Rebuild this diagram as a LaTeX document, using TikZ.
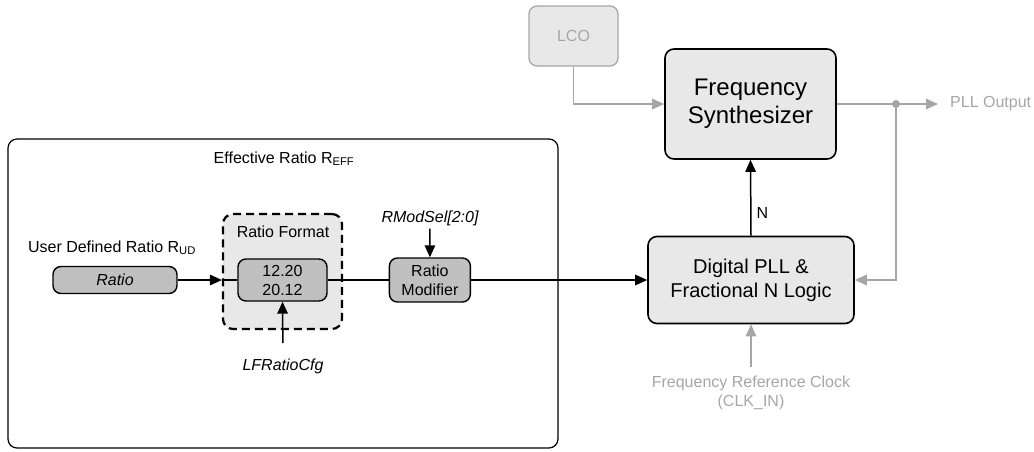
\documentclass[tikz,border=0pt]{standalone}
\usepackage{fontspec}
\setmainfont{Liberation Sans}
\usetikzlibrary{arrows.meta, positioning, shapes.geometric, calc}
\definecolor{lightfill}{HTML}{E8E8E8}
\definecolor{darkfill}{HTML}{C0C0C0}
\definecolor{faded}{HTML}{A6A6A6}

\begin{document}
\begin{tikzpicture}[
		x=1pt, y=-1pt,
		every node/.style={font=\fontsize{16}{19}\selectfont, inner sep=0pt},
		group/.style={draw, rounded corners=9pt, line width=1.2pt},
		block/.style={draw, rounded corners=9pt, fill=lightfill, line width=1.6pt, align=center},
		inner/.style={draw, rounded corners=8pt, fill=darkfill, line width=1.4pt, align=center},
		format/.style={draw, rounded corners=10pt, fill=lightfill, line width=2.2pt, dash pattern=on 8pt off 5pt},
		faint/.style={draw=faded, rounded corners=8pt, fill=lightfill, line width=1.3pt, text=faded},
		sig/.style={->, line width=1.5pt},
		fsig/.style={->, line width=1.5pt, faded},
		>={Triangle[length=12pt, width=10.5pt]}
		]
		\useasboundingbox (0,0) rectangle (1034,451);
		
		% Nodes for the effective ratio frame
		\node[group, minimum width=550pt, minimum height=309pt] (eff) at (283,293.5) {};
		\node[anchor=base] (efflabel) at (284,163) {Effective Ratio R\textsubscript{EFF}};
		\node[inner, minimum width=124pt, minimum height=27pt, font=\fontsize{16}{19}\selectfont\itshape] (ratio) at (115,280) {Ratio};
		\node[anchor=base] (udlabel) at (112,252) {User Defined Ratio R\textsubscript{UD}};
		\node[format, minimum width=119pt, minimum height=115pt] (fmt) at (282.5,271.5) {};
		\node[anchor=base] (fmtlabel) at (283,237) {Ratio Format};
		\node[inner, minimum width=89pt, minimum height=42pt] (conv) at (282.5,280) {12.20\\20.12};
		\node[anchor=base, font=\fontsize{16}{19}\selectfont\itshape] (lfcfg) at (283,370) {LFRatioCfg};
		\node[inner, minimum width=81pt, minimum height=44pt, right=61pt of conv] (rmod) {Ratio\\Modifier};
		\node[anchor=base, font=\fontsize{16}{19}\selectfont\itshape] (rmodsel) at (430,222) {RModSel[2:0]};
		
		% Nodes for the PLL
		\node[block, minimum width=206pt, minimum height=87pt, font=\fontsize{20}{24}\selectfont] (dpll) at (751,280) {Digital PLL \&\\Fractional N Logic};
		\node[block, minimum width=171pt, minimum height=110pt, font=\fontsize{24}{28}\selectfont] (fsyn) at (750.5,104) {Frequency\\Synthesizer};
		\node[faint, minimum width=89pt, minimum height=60pt] (lco) at (573.5,36) {LCO};
		\node[align=center, text=faded, below=51pt of dpll] (clk) {Frequency Reference Clock\\(CLK\_IN)};
		\node[anchor=west, text=faded] (pllout) at (950,104) {PLL Output};
		\coordinate (tap) at (896,104);
		
		% Ratio path
		\draw[sig] (ratio.east) -- (ratio.east -| fmt.west);
		\draw[line width=1.5pt] (ratio.east -| fmt.west) -- (conv.west);
		\draw[line width=1.5pt] (conv.east) -- (rmod.west);
		\draw[sig] (rmod.east) -- (dpll.west);
		\draw[sig, shorten <=3pt] (rmodsel) -- (rmod.north);
		\draw[sig, shorten <=15pt] (lfcfg.north) -- (conv.south);
		
		% PLL loop
		\draw[sig] (dpll.north) -- (fsyn.south) node[pos=0.3, right=5pt] (nlabel) {N};
		\draw[fsig] (lco.south) |- (fsyn.west);
		\draw[line width=1.5pt, faded] (fsyn.east) -- (tap);
		\draw[fsig, shorten >=12pt] (tap) -- (pllout.west);
		\draw[fsig] (tap) |- (dpll.east);
		\fill[faded] (tap) circle (4pt);
		\draw[fsig, shorten <=8pt] (clk.north) -- (dpll.south);
	\end{tikzpicture}
\end{document}
